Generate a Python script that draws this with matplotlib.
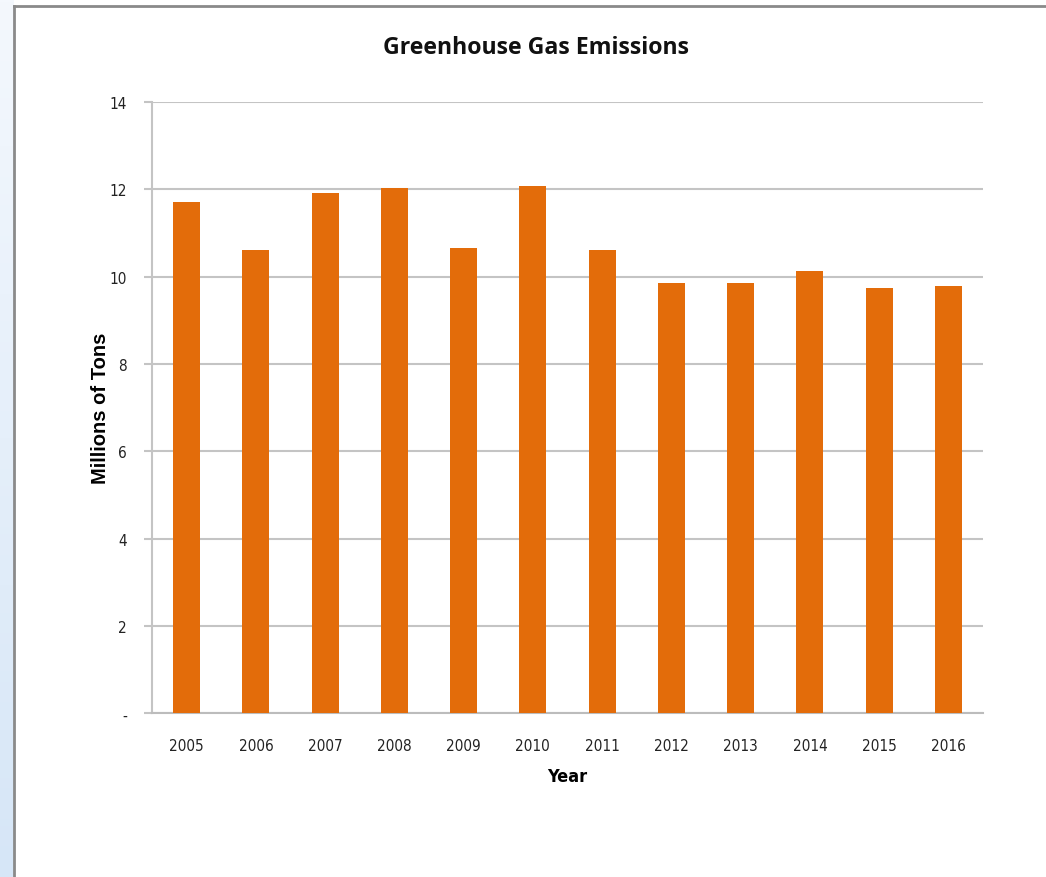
import numpy as np
import matplotlib
matplotlib.use('Agg')
import matplotlib.pyplot as plt
from matplotlib.lines import Line2D
from matplotlib.ticker import FuncFormatter

years = ['2005', '2006', '2007', '2008', '2009', '2010',
         '2011', '2012', '2013', '2014', '2015', '2016']
emissions = [11.72, 10.60, 11.91, 12.02, 10.65, 12.08,
             10.60, 9.86, 9.86, 10.12, 9.74, 9.79]
y_ticks = [0, 2, 4, 6, 8, 10, 12, 14]

narrow = ['DejaVu Sans']

fig = plt.figure(figsize=(10.46, 8.78), dpi=100)
fig.patch.set_facecolor('white')

# light blue strip on the left edge
strip = fig.add_axes([0, 0, 14 / 1046, 1])
grad = np.linspace(0, 1, 256).reshape(-1, 1)
strip.imshow(grad, aspect='auto', cmap=matplotlib.colors.LinearSegmentedColormap.from_list(
    'strip', ['#d6e6f7', '#f4f8fd']), origin='lower', extent=[0, 1, 0, 1])
strip.axis('off')

# chart frame
x0 = 14 / 1046
y0 = 1 - 7 / 878
fig.add_artist(Line2D([x0, x0], [-0.01, y0], transform=fig.transFigure, color='#8a8a8a', lw=2))
fig.add_artist(Line2D([x0, 1.01], [y0, y0], transform=fig.transFigure, color='#8a8a8a', lw=2))

ax = fig.add_axes([152 / 1046, 1 - 714.3 / 878, 831 / 1046, 611.3 / 878])
x = np.arange(len(years))
ax.bar(x, emissions, width=0.39, color='#e36c0a', zorder=3)

ax.set_xlim(-0.5, len(years) - 0.5)
ax.set_ylim(0, 14)
ax.set_yticks(y_ticks)
ax.yaxis.set_major_formatter(FuncFormatter(lambda v, p: '-' if v == 0 else f'{int(v)}'))
ax.set_xticks(x)
ax.set_xticklabels(years)

ax.grid(axis='y', color='#c4c4c4', lw=1.5, zorder=0)
for side in ['top', 'right']:
    ax.spines[side].set_visible(False)
ax.spines['left'].set_color('#c4c4c4')
ax.spines['left'].set_linewidth(1.5)
ax.spines['bottom'].set_color('#bcbcbc')
ax.spines['bottom'].set_linewidth(1.5)
ax.tick_params(axis='y', length=6, width=1.5, color='#c4c4c4', pad=12)
ax.tick_params(axis='x', length=0, pad=18)
for lbl in ax.get_xticklabels() + ax.get_yticklabels():
    lbl.set_family(narrow)
    lbl.set_stretch('condensed')
    lbl.set_fontsize(11)
    lbl.set_color('#222222')

ax.set_xlabel('Year', family=narrow, fontstretch='condensed', fontsize=13,
              fontweight='bold', labelpad=10)
ax.set_ylabel('Millions of Tons', family=['Liberation Sans', 'DejaVu Sans'],
              fontsize=14.5, fontweight='bold', labelpad=0)

fig.text(536 / 1046, 1 - 48 / 878, 'Greenhouse Gas Emissions', ha='center', va='center',
         family=['Open Sans', 'DejaVu Sans'], fontsize=16.7, fontweight='bold', color='#111111')

fig.savefig('out.png', dpi=100)
